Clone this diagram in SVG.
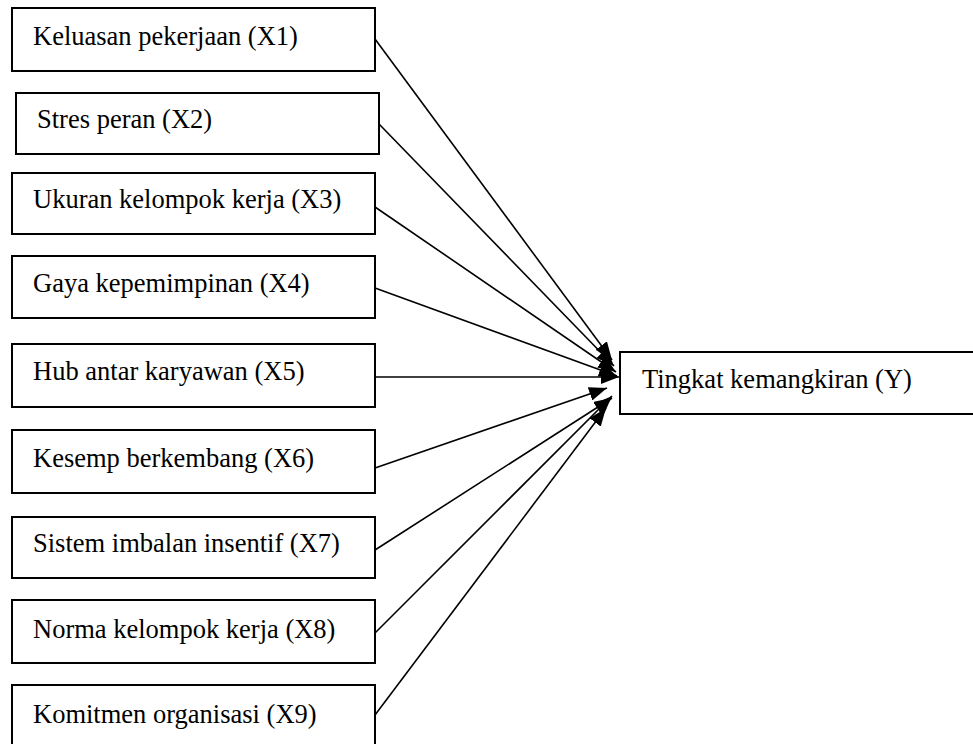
<svg xmlns="http://www.w3.org/2000/svg" width="973" height="744" viewBox="0 0 973 744">
<style>
.box{fill:#fff;stroke:#000;stroke-width:2}
.lbl{font-size:26.5px;fill:#000}
.conn line{stroke:#000;stroke-width:1.6;marker-end:url(#ah)}
</style>
<defs>
<marker id="ah" markerUnits="userSpaceOnUse" markerWidth="19" markerHeight="14" refX="18" refY="7" orient="auto">
<path d="M0,0 L18,7 L0,14 Z" fill="#000"/>
</marker>
</defs>
<rect width="973" height="744" fill="#fff"/>
<g font-family="'Liberation Serif', 'DejaVu Serif', serif">
<g id="x1"><rect class="box" x="12" y="8" width="363" height="63"/><text class="lbl" x="33" y="45">Keluasan pekerjaan (X1)</text></g>
<g id="x2"><rect class="box" x="16" y="93" width="363" height="61"/><text class="lbl" x="37" y="128">Stres peran (X2)</text></g>
<g id="x3"><rect class="box" x="12" y="173" width="363" height="61"/><text class="lbl" x="33" y="208">Ukuran kelompok kerja (X3)</text></g>
<g id="x4"><rect class="box" x="12" y="256" width="363" height="62"/><text class="lbl" x="33" y="292">Gaya kepemimpinan (X4)</text></g>
<g id="x5"><rect class="box" x="12" y="344" width="363" height="63"/><text class="lbl" x="33" y="380">Hub antar karyawan (X5)</text></g>
<g id="x6"><rect class="box" x="12" y="430" width="363" height="63"/><text class="lbl" x="33" y="467">Kesemp berkembang (X6)</text></g>
<g id="x7"><rect class="box" x="12" y="517" width="363" height="61"/><text class="lbl" x="33" y="552">Sistem imbalan insentif (X7)</text></g>
<g id="x8"><rect class="box" x="12" y="600" width="363" height="63"/><text class="lbl" x="33" y="638">Norma kelompok kerja (X8)</text></g>
<g id="x9"><rect class="box" x="12" y="685" width="363" height="80"/><text class="lbl" x="33" y="723">Komitmen organisasi (X9)</text></g>
<g id="y"><rect class="box" x="620" y="352" width="380" height="62"/><text class="lbl" x="642" y="388">Tingkat kemangkiran (Y)</text></g>
</g>
<g class="conn" id="connectors">
<line x1="375" y1="39" x2="612" y2="360"/>
<line x1="379" y1="124" x2="614" y2="366"/>
<line x1="375" y1="207" x2="616" y2="372"/>
<line x1="375" y1="288" x2="617" y2="376"/>
<line x1="375" y1="377" x2="619" y2="377"/>
<line x1="375" y1="468" x2="607" y2="388"/>
<line x1="375" y1="550" x2="612" y2="398"/>
<line x1="375" y1="633" x2="612" y2="396"/>
<line x1="375" y1="715" x2="606" y2="408"/>
</g>
</svg>
